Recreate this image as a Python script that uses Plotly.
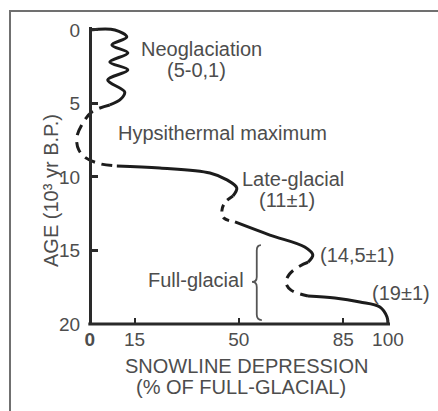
import plotly.graph_objects as go

W, H = 438, 411

# ---- data (x: snowline depression %, y: age 10^3 yr B.P.) ----
neo_x = [0, 8.4, 12.4, 7.4, 12.75, 6.7, 12.75, 6.0, 11.7, 10.4, 6.7]
neo_y = [0, 0, 0.48, 1.02, 1.56, 2.18, 2.72, 3.4, 4.22, 4.7, 5.1]

hyp_x = [6.7, 0.67, -2.7, -4.4, -3.7, -1.34, 3.4, 9.06]
hyp_y = [5.1, 5.58, 6.46, 7.35, 8.16, 8.7, 9.1, 9.25]

late_x = [9.06, 23.5, 40.3, 46.0, 49.3, 48.0]
late_y = [9.25, 9.39, 9.73, 10.2, 10.75, 11.29]

gap1_x = [48.0, 45.3, 44.3, 45.0, 48.7]
gap1_y = [11.29, 11.75, 12.3, 12.8, 13.06]

mid_x = [48.7, 60.4, 72.1, 74.8, 73.2]
mid_y = [13.06, 13.95, 14.76, 15.3, 15.8]

gap2_x = [73.2, 70.5, 67.0, 65.8, 67.5, 73.2]
gap2_y = [15.8, 16.05, 16.6, 17.2, 17.7, 18.1]

full_x = [73.2, 82.2, 90.6, 97.3, 99.7, 100]
full_y = [18.1, 18.23, 18.5, 18.84, 19.52, 20]

x_ticks = [0, 15, 50, 85, 100]
x_ticktext = ["<b>0</b>", "15", "50", "85", "100"]
y_ticks = [0, 5, 10, 15, 20]

labels = [
    ("Neoglaciation", 37.6, 1.3),
    ("(5-0,1)", 35.9, 2.73),
    ("Hypsithermal maximum", 44.6, 7.0),
    ("Late-glacial", 68.1, 10.12),
    ("(11±1)", 66.1, 11.55),
    ("(14,5±1)", 89.6, 15.3),
    ("(19±1)", 104.4, 17.9),
    ("Full-glacial", 35.7, 17.0),
]

# ---- layout geometry (pixels) ----
XMIN, XMAX = -9.0, 100.7
YTOP, YBOT = -0.2, 20.0
PL, PR = 63, 390      # plot area left/right px
PT, PB = 27, 324      # plot area top/bottom px

def paper_x(px):
    return px / W

def paper_y(py):
    return 1 - py / H

def data_to_px_x(v):
    return PL + (v - XMIN) / (XMAX - XMIN) * (PR - PL)

def data_to_py(v):
    return PT + (v - YTOP) / (YBOT - YTOP) * (PB - PT)

LINE = "#1c1c1c"
TXT = "#4d4d4d"
FONT = "Liberation Sans, Arial, sans-serif"
FS = 20

fig = go.Figure()

def add(xs, ys, dash=None):
    fig.add_trace(go.Scatter(
        x=xs, y=ys, mode="lines",
        line=dict(color=LINE, width=3, shape="spline", smoothing=1.0,
                  dash=dash if dash else "solid"),
        hoverinfo="skip", showlegend=False))

add(neo_x, neo_y)
add(hyp_x, hyp_y, "11px,7px")
add(late_x, late_y)
add(gap1_x, gap1_y, "7px,6px")
add(mid_x, mid_y)
add(gap2_x, gap2_y, "10px,7px")
add(full_x, full_y)

# labels placed through the axis mapping (paper coords so none is hidden
# when it sits beyond the axis range)
for text, x, y in labels:
    fig.add_annotation(x=paper_x(data_to_px_x(x)), y=paper_y(data_to_py(y)),
                       xref="paper", yref="paper", text=text,
                       showarrow=False, xanchor="center", yanchor="middle",
                       font=dict(family=FONT, size=FS, color=TXT))

# axis titles
fig.add_annotation(x=paper_x(246), y=paper_y(379), xref="paper", yref="paper",
                   text="SNOWLINE DEPRESSION", showarrow=False,
                   font=dict(family=FONT, size=FS, color=TXT))
fig.add_annotation(x=paper_x(241), y=paper_y(399.5), xref="paper", yref="paper",
                   text="(% OF FULL-GLACIAL)", showarrow=False,
                   font=dict(family=FONT, size=FS, color=TXT))
fig.add_annotation(x=paper_x(38), y=paper_y(191), xref="paper", yref="paper",
                   text="AGE (10³ yr B.P.)", showarrow=False, textangle=-90,
                   font=dict(family=FONT, size=FS, color=TXT))

# brace for Full-glacial
bx, btip = 56.0, 54.4
b_top, b_mid, b_bot = 14.63, 17.14, 19.73
path = (f"M 57.4,{b_top} Q {bx},{b_top} {bx},{b_top+0.37} "
        f"L {bx},{b_mid-0.34} Q {bx},{b_mid} {btip},{b_mid} "
        f"Q {bx},{b_mid} {bx},{b_mid+0.34} "
        f"L {bx},{b_bot-0.37} Q {bx},{b_bot} 57.7,{b_bot}")
fig.add_shape(type="path", path=path, xref="x", yref="y",
              line=dict(color="#555555", width=1.8))

# x axis line (from the y axis to the right end)
fig.add_shape(type="line", xref="paper", yref="paper",
              x0=paper_x(data_to_px_x(0) - 1.5), x1=paper_x(PR),
              y0=paper_y(data_to_py(20)), y1=paper_y(data_to_py(20)),
              line=dict(color="#2a2a2a", width=3))

# outer frame
fig.add_shape(type="rect", xref="paper", yref="paper",
              x0=paper_x(10), x1=1.05, y0=-0.05, y1=paper_y(11),
              line=dict(color="#707070", width=2))

fig.update_layout(
    width=W, height=H, autosize=False,
    margin=dict(l=0, r=0, t=0, b=0, pad=0, autoexpand=False),
    paper_bgcolor="white", plot_bgcolor="rgba(0,0,0,0)",
    font=dict(family=FONT, color=TXT),
    xaxis=dict(domain=[paper_x(PL), paper_x(PR)], range=[XMIN, XMAX],
               showgrid=False, zeroline=False, showline=False,
               automargin=False,
               tickvals=x_ticks, ticktext=x_ticktext,
               ticks="inside", ticklen=6, tickwidth=2, tickcolor="#2a2a2a",
               ticklabelstandoff=2,
               tickfont=dict(family=FONT, size=19, color=TXT)),
    yaxis=dict(domain=[paper_y(PB), paper_y(PT)], range=[YBOT, YTOP],
               anchor="free", position=paper_x(data_to_px_x(0)),
               automargin=False,
               showgrid=False, zeroline=False, showline=True,
               linecolor="#2a2a2a", linewidth=3,
               tickvals=y_ticks, ticks="inside", ticklen=6, tickwidth=2.5,
               tickcolor="#2a2a2a", ticklabelstandoff=5,
               tickfont=dict(family=FONT, size=19, color=TXT)),
)

fig.write_html(
    "out.html",
    config={"displayModeBar": False},
    post_script="document.body.style.margin='0';document.body.style.overflow='hidden';",
)
